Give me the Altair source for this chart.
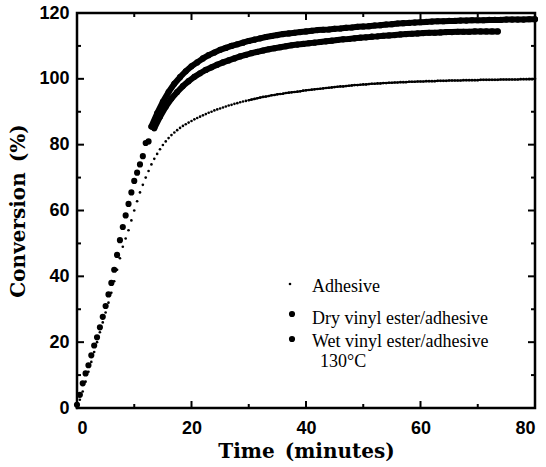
import altair as alt
import pandas as pd

# ---------------- data ----------------
adh_t = [0, 0.5, 1, 1.5, 2, 2.5, 3, 3.5, 4, 4.5,
         5, 5.5, 6, 6.5, 7, 7.5, 8, 8.5, 9, 9.5,
         10, 10.5, 11, 11.5, 12, 12.5, 13, 13.5, 14, 14.5,
         15, 15.5, 16, 16.5, 17, 17.5, 18, 18.5, 19, 19.5,
         20, 20.5, 21, 21.5, 22, 22.5, 23, 23.5, 24, 24.5,
         25, 25.5, 26, 26.5, 27, 27.5, 28, 28.5, 29, 29.5,
         30, 30.5, 31, 31.5, 32, 32.5, 33, 33.5, 34, 34.5,
         35, 35.5, 36, 36.5, 37, 37.5, 38, 38.5, 39, 39.5,
         40, 40.5, 41, 41.5, 42, 42.5, 43, 43.5, 44, 44.5,
         45, 45.5, 46, 46.5, 47, 47.5, 48, 48.5, 49, 49.5,
         50, 50.5, 51, 51.5, 52, 52.5, 53, 53.5, 54, 54.5,
         55, 55.5, 56, 56.5, 57, 57.5, 58, 58.5, 59, 59.5,
         60, 60.5, 61, 61.5, 62, 62.5, 63, 63.5, 64, 64.5,
         65, 65.5, 66, 66.5, 67, 67.5, 68, 68.5, 69, 69.5,
         70, 70.5, 71, 71.5, 72, 72.5, 73, 73.5, 74, 74.5,
         75, 75.5, 76, 76.5, 77, 77.5, 78, 78.5, 79, 79.5,
         80]
adh_v = [0, 2.5, 5, 8, 11, 14, 17, 20, 23, 26,
         29, 32, 35, 38.5, 42, 45.5, 49, 51.5, 54, 57,
         60, 62.8, 65.5, 67.8, 70, 72, 74, 75.7, 77.2, 78.6,
         79.9, 81, 82, 82.9, 83.7, 84.4, 85.1, 85.7, 86.2, 86.7,
         87.2, 87.7, 88.1, 88.5, 88.9, 89.3, 89.7, 90, 90.4, 90.7,
         91, 91.3, 91.6, 91.9, 92.1, 92.4, 92.6, 92.9, 93.1, 93.3,
         93.5, 93.7, 93.9, 94.1, 94.3, 94.5, 94.6, 94.8, 95, 95.1,
         95.3, 95.4, 95.5, 95.7, 95.8, 95.9, 96, 96.1, 96.2, 96.4,
         96.5, 96.6, 96.7, 96.8, 96.9, 97, 97.1, 97.2, 97.3, 97.4,
         97.5, 97.6, 97.7, 97.7, 97.8, 97.9, 98, 98.1, 98.1, 98.2,
         98.3, 98.3, 98.4, 98.5, 98.5, 98.6, 98.6, 98.7, 98.7, 98.8,
         98.8, 98.9, 98.9, 99, 99, 99, 99.1, 99.1, 99.1, 99.2,
         99.2, 99.2, 99.3, 99.3, 99.3, 99.3, 99.4, 99.4, 99.4, 99.4,
         99.5, 99.5, 99.5, 99.5, 99.5, 99.6, 99.6, 99.6, 99.6, 99.6,
         99.6, 99.7, 99.7, 99.7, 99.7, 99.7, 99.7, 99.7, 99.8, 99.8,
         99.8, 99.8, 99.8, 99.8, 99.8, 99.9, 99.9, 99.9, 99.9, 99.9,
         100]

dry_t = [0, 1, 2, 3, 4, 5, 6, 7, 8, 9,
         10, 11, 12, 13, 14, 15, 16, 17, 18, 19,
         20, 21, 22, 23, 24, 25, 26, 27, 28, 29,
         30, 31, 32, 33, 34, 35, 36, 37, 38, 39,
         40, 41, 42, 43, 44, 45, 46, 47, 48, 49,
         50, 51, 52, 53, 54, 55, 56, 57, 58, 59,
         60, 61, 62, 63, 64, 65, 66, 67, 68, 69,
         70, 71, 72, 73, 74, 75, 76, 77, 78, 79, 80]
dry_v = [1, 7.5, 13, 19, 24.5, 31, 38, 46.5, 55, 62,
         69, 74, 80.5, 85.5, 89.5, 93, 96, 98.5, 100.5, 102.3,
         103.8, 105, 106.2, 107.2, 108, 108.8, 109.4, 110, 110.5, 111,
         111.5, 111.9, 112.3, 112.7, 113, 113.3, 113.6, 113.8, 114, 114.2,
         114.4, 114.6, 114.8, 114.9, 115, 115.2, 115.3, 115.5, 115.6, 115.8,
         115.9, 116, 116.2, 116.3, 116.5, 116.6, 116.8, 116.9, 117, 117.1,
         117.2, 117.3, 117.4, 117.5, 117.5, 117.6, 117.6, 117.7, 117.7, 117.8,
         117.8, 117.8, 117.9, 117.9, 117.9, 118, 118, 118, 118, 118.1, 118.1]

wet_t = [0.5, 1.5, 2.5, 3.5, 4.5, 5.5, 6.5, 7.5, 8.5, 9.5,
         10.5, 11.5, 12.5, 13.5, 14.5, 15.5, 16.5, 17.5, 18.5, 19.5,
         20.5, 21.5, 22.5, 23.5, 24.5, 25.5, 26.5, 27.5, 28.5, 29.5,
         30.5, 31.5, 32.5, 33.5, 34.5, 35.5, 36.5, 37.5, 38.5, 39.5,
         40.5, 41.5, 42.5, 43.5, 44.5, 45.5, 46.5, 47.5, 48.5, 49.5,
         50.5, 51.5, 52.5, 53.5, 54.5, 55.5, 56.5, 57.5, 58.5, 59.5,
         60.5, 61.5, 62.5, 63.5, 64.5, 65.5, 66.5, 67.5, 68.5, 69.5,
         70.5, 71.5, 72.5, 73.5]
wet_v = [4, 10.5, 16, 21.5, 27.7, 34.5, 42, 51, 58.5, 65.5,
         71.5, 76.5, 81, 85, 88.5, 91.5, 94, 96, 97.8, 99.3,
         100.6, 101.7, 102.7, 103.5, 104.3, 105, 105.6, 106.2, 106.8, 107.3,
         107.8, 108.2, 108.6, 109, 109.3, 109.6, 109.9, 110.2, 110.4, 110.6,
         110.8, 111, 111.2, 111.4, 111.6, 111.8, 112, 112.1, 112.3, 112.5,
         112.6, 112.8, 112.9, 113.1, 113.2, 113.3, 113.5, 113.6, 113.7, 113.8,
         113.9, 114, 114, 114.1, 114.2, 114.2, 114.3, 114.3, 114.3, 114.4,
         114.4, 114.4, 114.4, 114.4]

x_major = [0, 20, 40, 60, 80]
x_minor = [10, 30, 50, 70]
y_major = [0, 20, 40, 60, 80, 100, 120]
y_minor = [10, 30, 50, 70, 90, 110]

legend_labels = ["Adhesive", "Dry vinyl ester/adhesive", "Wet vinyl ester/adhesive"]
note_label = "130\u00b0C"

# ---------------- chart ----------------
W, H = 458, 395
xscale = alt.Scale(domain=[0, 80], nice=False, zero=False)
yscale = alt.Scale(domain=[0, 120], nice=False, zero=False)

x_axis = alt.Axis(title="Time\u2002(minutes)", values=x_major, format="d",
                  labelPadding=11, titlePadding=4)
y_axis = alt.Axis(title="Conversion\u2002(%)", values=y_major, format="d",
                  labelPadding=8, titlePadding=10)

X = lambda f: alt.X(f, scale=xscale, axis=x_axis)
Y = lambda f: alt.Y(f, scale=yscale, axis=y_axis)

def series(t, v, size, band_from=None, band_width=0):
    df = pd.DataFrame({"t": t, "v": v})
    pts = alt.Chart(df).mark_circle(size=size, color="black", opacity=1).encode(
        x=X("t:Q"), y=Y("v:Q"))
    out = [pts]
    if band_from is not None:
        # the densely sampled part of the record merges into a thick band
        band = alt.Chart(df).transform_filter(alt.datum.t >= band_from).mark_line(
            color="black", strokeWidth=band_width, strokeCap="round",
            strokeJoin="round").encode(x=X("t:Q"), y=Y("v:Q"))
        out.append(band)
    return out

layers = (series(adh_t, adh_v, 7, 30, 2)
          + series(wet_t, wet_v, 38, 13.5, 6)
          + series(dry_t, dry_v, 38, 13, 6))

def xticks(vals, length):
    df = pd.DataFrame({"t": vals})
    base = alt.Chart(df).mark_rule(color="black", strokeWidth=2)
    bottom = base.encode(x=X("t:Q"), y=alt.value(H), y2=alt.value(H - length))
    top = base.encode(x=X("t:Q"), y=alt.value(0), y2=alt.value(length))
    return [bottom, top]

def yticks(vals, length):
    df = pd.DataFrame({"v": vals})
    base = alt.Chart(df).mark_rule(color="black", strokeWidth=2)
    left = base.encode(y=Y("v:Q"), x=alt.value(0), x2=alt.value(length))
    right = base.encode(y=Y("v:Q"), x=alt.value(W), x2=alt.value(W - length))
    return [left, right]

layers += xticks(x_major, 7) + xticks(x_minor, 4) + yticks(y_major, 7) + yticks(y_minor, 4)

# legend (manual, inside the plot)
leg_sizes = [7, 38, 38]
leg_dot_xy = [(213, 271), (215, 301), (215, 326)]
leg_text_xy = [(235, 274), (235, 306), (235, 329)]
for lab, sz, (dx, dy), (tx, ty) in zip(legend_labels, leg_sizes, leg_dot_xy, leg_text_xy):
    d = pd.DataFrame({"label": [lab]})
    layers.append(alt.Chart(d).mark_circle(size=sz, color="black", opacity=1).encode(
        x=alt.value(dx), y=alt.value(dy)))
    layers.append(alt.Chart(d).mark_text(align="left", baseline="middle",
                                         font="Liberation Serif", fontSize=18,
                                         color="black").encode(
        text="label:N", x=alt.value(tx), y=alt.value(ty)))
d = pd.DataFrame({"label": [note_label]})
layers.append(alt.Chart(d).mark_text(align="left", baseline="middle",
                                     font="Liberation Serif", fontSize=18,
                                     color="black").encode(
    text="label:N", x=alt.value(243), y=alt.value(349)))

chart = alt.layer(*layers).properties(
    width=W, height=H,
    autosize=alt.AutoSizeParams(type="none"),
    padding={"left": 77, "top": 13, "right": 11, "bottom": 59},
    background="white",
).configure_view(
    stroke="black", strokeWidth=2.5
).configure_axis(
    domain=False, ticks=False, grid=False,
    labelFont="Liberation Sans", labelFontSize=18, labelFontWeight="bold",
    labelColor="black",
    titleFont="DejaVu Serif", titleFontSize=20, titleFontWeight="bold",
    titleColor="black",
)

chart.save("out.html", embed_options={"renderer": "svg", "actions": False})
